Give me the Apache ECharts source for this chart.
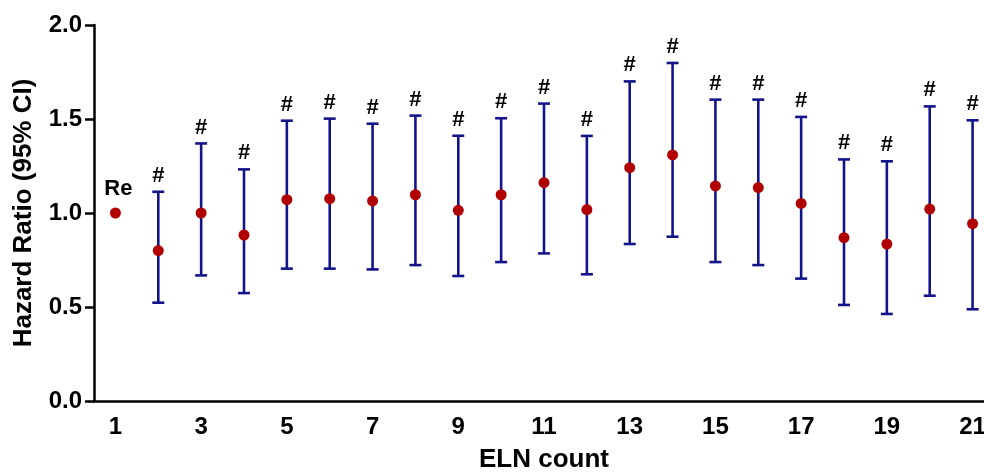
<!DOCTYPE html>
<html><head><meta charset="utf-8">
<script src="https://cdn.jsdelivr.net/npm/echarts@6/dist/echarts.min.js"></script>
<style>html,body{margin:0;padding:0;background:#fff}#c{width:984px;height:472px}</style>
</head><body><div id="c"></div>
<script>
const categories = ['1','2','3','4','5','6','7','8','9','10','11','12','13','14','15','16','17','18','19','20','21'];
const hazardRatio = [1.00,0.80,1.00,0.883,1.071,1.076,1.064,1.097,1.014,1.097,1.161,1.018,1.241,1.309,1.144,1.135,1.051,0.869,0.835,1.021,0.943];
const lowerCI = [null,0.523,0.668,0.574,0.704,0.704,0.700,0.723,0.665,0.739,0.785,0.674,0.835,0.874,0.739,0.723,0.651,0.511,0.463,0.560,0.488];
const upperCI = [null,1.113,1.370,1.232,1.491,1.502,1.475,1.518,1.411,1.504,1.582,1.410,1.700,1.798,1.603,1.603,1.511,1.285,1.275,1.567,1.493];
const markLabels = ['Re','#','#','#','#','#','#','#','#','#','#','#','#','#','#','#','#','#','#','#','#'];
const yTicks = [0, 0.5, 1.0, 1.5, 2.0];

const FONT = 'Arial, "Liberation Sans", sans-serif';
const BAR = '#14148a';
const DOT = '#b00000';

const ciData = categories.map((c, i) => [i, lowerCI[i], upperCI[i], hazardRatio[i]]);

const chart = echarts.init(document.getElementById('c'));
chart.setOption({
  animation: false,
  grid: { left: 94, right: -10, top: 25, bottom: 71, containLabel: false, outerBoundsMode: 'none' },
  xAxis: {
    type: 'category', data: categories, boundaryGap: true,
    name: 'ELN count', nameLocation: 'middle', nameGap: 46,
    nameTextStyle: { fontFamily: FONT, fontWeight: 'bold', fontSize: 26, color: '#000' },
    axisLine: { lineStyle: { color: '#000', width: 2.5 } },
    axisTick: { alignWithLabel: true, interval: 0, length: 8, lineStyle: { color: '#000', width: 2.5 } },
    axisLabel: { interval: 1, margin: 14, fontFamily: FONT, fontWeight: 'bold', fontSize: 24, color: '#000' },
    splitLine: { show: false }
  },
  yAxis: {
    type: 'value', min: yTicks[0], max: yTicks[yTicks.length - 1], interval: 0.5,
    name: 'Hazard Ratio (95% CI)', nameLocation: 'middle', nameGap: 57, nameRotate: 90,
    nameTextStyle: { fontFamily: FONT, fontWeight: 'bold', fontSize: 26, color: '#000' },
    axisLine: { show: true, lineStyle: { color: '#000', width: 2.5 } },
    axisTick: { show: true, length: 9, lineStyle: { color: '#000', width: 2.5 } },
    axisLabel: { margin: 12, fontFamily: FONT, fontWeight: 'bold', fontSize: 24, color: '#000', formatter: v => v.toFixed(1) },
    splitLine: { show: false }
  },
  series: [
    {
      type: 'custom',
      data: ciData,
      z: 2,
      renderItem: function (params, api) {
        const i = api.value(0);
        const lo = api.value(1), hi = api.value(2), hr = api.value(3);
        const children = [];
        if (lowerCI[i] == null) {
          const p = api.coord([i, hr]);
          children.push({ type: 'text', style: { x: p[0] + 3, y: p[1] - 24, text: markLabels[i], fill: '#000',
            font: 'bold 22px ' + FONT, align: 'center', verticalAlign: 'middle' } });
          return { type: 'group', children };
        }
        const top = api.coord([i, hi]);
        const bot = api.coord([i, lo]);
        const cw = 6;
        const ls = { stroke: BAR, lineWidth: 2.6 };
        children.push({ type: 'line', shape: { x1: top[0], y1: top[1], x2: bot[0], y2: bot[1] }, style: ls });
        children.push({ type: 'line', shape: { x1: top[0] - cw, y1: top[1], x2: top[0] + cw, y2: top[1] }, style: ls });
        children.push({ type: 'line', shape: { x1: bot[0] - cw, y1: bot[1], x2: bot[0] + cw, y2: bot[1] }, style: ls });
        children.push({ type: 'text', style: { x: top[0], y: top[1] - 16, text: markLabels[i], fill: '#000',
          font: 'bold 22px ' + FONT, align: 'center', verticalAlign: 'middle' } });
        return { type: 'group', children };
      }
    },
    {
      type: 'scatter',
      data: hazardRatio,
      symbol: 'circle',
      symbolSize: 11,
      z: 3,
      itemStyle: { color: DOT, opacity: 1 }
    }
  ]
});
</script>
</body></html>
